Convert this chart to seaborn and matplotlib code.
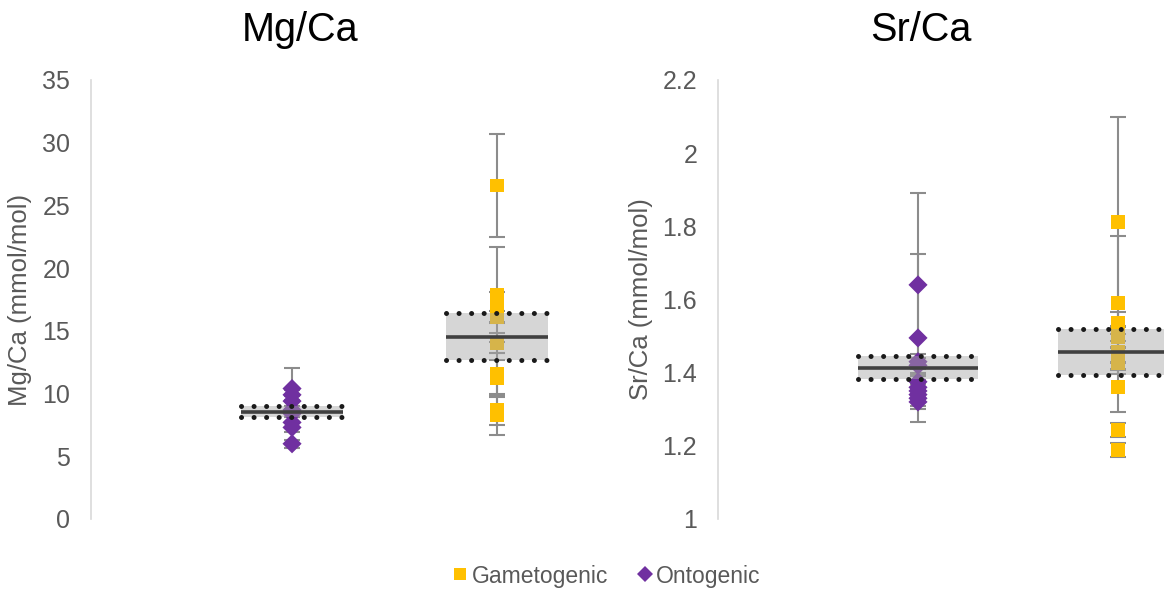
import numpy as np
import pandas as pd
import matplotlib
matplotlib.use("Agg")
import matplotlib.pyplot as plt
from matplotlib.lines import Line2D
import seaborn as sns

# Groups and their x positions on each panel
groups = ["Ontogenic", "Gametogenic"]
group_pos = [1, 2]

# Mg/Ca (mmol/mol): individual measurements and their uncertainties
mg_onto = [10.4, 9.9, 9.4, 8.7, 8.4, 7.7, 7.3, 6.0]
mg_onto_err = [1.6, 0.4, 0.4, 0.3, 0.3, 0.4, 0.4, 0.3]
mg_game = [26.6, 17.9, 16.9, 16.1, 14.0, 11.6, 11.2, 8.7, 8.3]
mg_game_err = [4.1, 3.8, 1.2, 0.5, 0.8, 1.6, 1.5, 1.2, 1.6]
mg_mean = [8.55, 14.55]
mg_ci = [0.45, 1.9]

# Sr/Ca (mmol/mol): individual measurements and their uncertainties
sr_onto = [1.64, 1.495, 1.43, 1.42, 1.375, 1.36, 1.35, 1.34, 1.33, 1.32]
sr_onto_err = [0.25, 0.23, 0.02, 0.02, 0.02, 0.02, 0.02, 0.02, 0.02, 0.02]
sr_game = [1.812, 1.590, 1.536, 1.497, 1.456, 1.44, 1.426, 1.361, 1.243, 1.189]
sr_game_err = [0.287, 0.184, 0.03, 0.03, 0.03, 0.03, 0.03, 0.068, 0.02, 0.02]
sr_mean = [1.414, 1.456]
sr_ci = [0.032, 0.063]

mg_ticks = [0, 5, 10, 15, 20, 25, 30, 35]
sr_ticks = [1, 1.2, 1.4, 1.6, 1.8, 2, 2.2]

GOLD = "#FFC000"
PURPLE = "#7030A0"
TEXT = "#595959"
FONT = "Liberation Sans"

sns.set_theme(style="white")
plt.rcParams["font.family"] = [FONT, "DejaVu Sans"]

W, H = 1164, 589
fig = plt.figure(figsize=(W / 100, H / 100), dpi=100)


def px_axes(x0, x1, ytop, ybot):
    return fig.add_axes([x0 / W, (H - ybot) / H, (x1 - x0) / W, (ybot - ytop) / H])


def long_frame(onto, onto_err, game, game_err):
    rows = []
    for v, e in zip(onto, onto_err):
        rows.append(("Ontogenic", group_pos[0], v, e))
    for v, e in zip(game, game_err):
        rows.append(("Gametogenic", group_pos[1], v, e))
    return pd.DataFrame(rows, columns=["group", "pos", "value", "err"])


def draw_panel(ax, df, means, cis, half_w, xlim, ylim, ticks, ylabel):
    # per-point error bars
    ax.errorbar(df["pos"], df["value"], yerr=df["err"], fmt="none",
                ecolor="#8c8c8c", elinewidth=1.5, capsize=6, capthick=1.5, zorder=1)
    sns.scatterplot(data=df, x="pos", y="value", hue="group", style="group",
                    palette={"Gametogenic": GOLD, "Ontogenic": PURPLE},
                    markers={"Gametogenic": "s", "Ontogenic": "D"},
                    s=95, linewidth=0, legend=False, ax=ax, zorder=2)
    # interval band, its dotted limits and the mean line
    for p, m, c in zip(group_pos, means, cis):
        ax.fill_between([p - half_w, p + half_w], m - c, m + c,
                        color="#a6a6a6", alpha=0.45, linewidth=0, zorder=3)
        ax.hlines([m - c, m + c], p - half_w, p + half_w, colors="#1a1a1a",
                  linestyles=(0, (0.01, 2.5)), linewidth=3.6, capstyle="round", zorder=4)
        ax.hlines(m, p - half_w, p + half_w, colors="#404040", linewidth=2.6, zorder=5)
    ax.set_xlim(*xlim)
    ax.set_ylim(*ylim)
    ax.set_yticks(ticks)
    ax.set_yticklabels([f"{t:g}" for t in ticks], color=TEXT, fontsize=18)
    ax.set_xticks([])
    ax.set_xlabel("")
    ax.set_ylabel(ylabel, color=TEXT, fontsize=18.5, labelpad=7)
    ax.tick_params(axis="y", length=0, pad=15)
    for side in ["top", "right", "bottom"]:
        ax.spines[side].set_visible(False)
    ax.spines["left"].set_color("#d9d9d9")
    ax.spines["left"].set_linewidth(1.2)
    ax.patch.set_alpha(0)


ax_mg = px_axes(91, 610, 80, 519)
draw_panel(ax_mg, long_frame(mg_onto, mg_onto_err, mg_game, mg_game_err),
           mg_mean, mg_ci, 0.25, (0.02, 2.55), (0, 35), mg_ticks, "Mg/Ca (mmol/mol)")

ax_sr = px_axes(718, 1164, 80, 519)
draw_panel(ax_sr, long_frame(sr_onto, sr_onto_err, sr_game, sr_game_err),
           sr_mean, sr_ci, 0.3, (0.0, 2.23), (1, 2.2), sr_ticks, "Sr/Ca (mmol/mol)")

fig.text(300 / W, 1 - 30 / H, "Mg/Ca", ha="center", va="center", fontsize=28.5, color="#000000")
fig.text(921 / W, 1 - 30 / H, "Sr/Ca", ha="center", va="center", fontsize=28.5, color="#000000")

handles = [
    Line2D([], [], linestyle="none", marker="s", markersize=8, color=GOLD, markeredgewidth=0),
    Line2D([], [], linestyle="none", marker="D", markersize=8, color=PURPLE, markeredgewidth=0),
]
fig.legend(handles, ["Gametogenic", "Ontogenic"], loc="center", ncol=2,
           bbox_to_anchor=(606 / W, 1 - 576 / H), frameon=False, fontsize=16.5,
           labelcolor=TEXT, handletextpad=0.1, columnspacing=1.2, handlelength=0.8)

fig.savefig("out.png", dpi=100)
